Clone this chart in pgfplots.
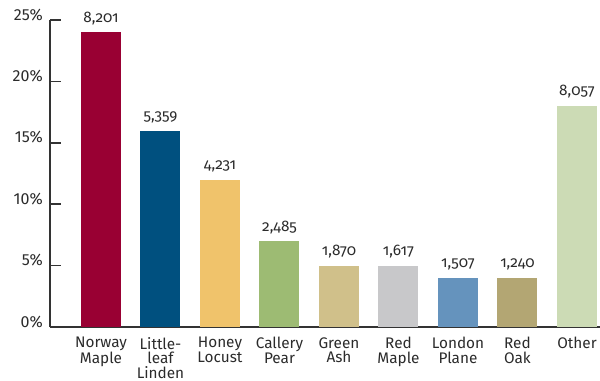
\documentclass[border=0pt]{standalone}
\usepackage{pgfplots}
\pgfplotsset{compat=1.18}
\usepackage{fontspec}
\setmainfont{Fira Sans}
\newfontfamily\osf{Fira Sans}[Numbers=OldStyle]
\definecolor{txt}{HTML}{2B2B2B}
\definecolor{axgray}{HTML}{333333}
\definecolor{cNM}{HTML}{990033}
\definecolor{cLL}{HTML}{00507F}
\definecolor{cHL}{HTML}{F0C36B}
\definecolor{cCP}{HTML}{9DBB73}
\definecolor{cGA}{HTML}{D0C08A}
\definecolor{cRM}{HTML}{C8C8CA}
\definecolor{cLP}{HTML}{6593BD}
\definecolor{cRO}{HTML}{B3A673}
\definecolor{cOT}{HTML}{CCDBB5}
\begin{document}
\begin{tikzpicture}[x=0.75pt,y=0.75pt]
\useasboundingbox (-50,-53) rectangle (550,327);
\begin{axis}[
  at={(0,0)}, anchor=south west,
  scale only axis, width=412.5pt, height=230.25pt,
  xmin=-0.857, xmax=8.387, ymin=0, ymax=25,
  axis x line*=bottom, axis y line*=left,
  axis line style={-, draw=axgray, line width=1.1pt},
  ytick={0,5,10,15,20,25},
  yticklabel={\pgfmathprintnumber{\tick}\%},
  /pgf/number format/assume math mode=true,
  yticklabel style={anchor=base east, inner sep=0pt, xshift=-5.25pt, font=\fontsize{12}{12}\selectfont, text=txt},
  ytick pos=left, tick align=inside, major tick length=8pt,
  ytick style={draw=axgray, line width=1.1pt},
  xtick={0,...,8},
  xticklabels={{Norway\\Maple},{Little-\\leaf\\Linden},{Honey\\Locust},{Callery\\Pear},{Green\\Ash},{Red\\Maple},{London\\Plane},{Red\\Oak},{Other}},
  xticklabel style={align=center, anchor=north, inner sep=0pt, yshift=0.5pt, font=\fontsize{11.5}{11}\selectfont, text=txt},
  xtick style={draw=none},
  ybar, bar width=30pt, bar shift=0pt,
  clip=false,
  every axis plot/.append style={draw=none},
  point meta=explicit symbolic,
  nodes near coords={\osf\pgfplotspointmeta},
  every node near coord/.append style={anchor=base, inner sep=0pt, yshift=7.5pt, font=\osf\fontsize{11.5}{11.5}\selectfont, text=txt},
]
\addplot[fill=cNM] coordinates {(0,24) [8{,}201]};
\addplot[fill=cLL] coordinates {(1,16) [5{,}359]};
\addplot[fill=cHL] coordinates {(2,12) [4{,}231]};
\addplot[fill=cCP] coordinates {(3,7) [2{,}485]};
\addplot[fill=cGA] coordinates {(4,5) [1{,}870]};
\addplot[fill=cRM] coordinates {(5,5) [1{,}617]};
\addplot[fill=cLP] coordinates {(6,4) [1{,}507]};
\addplot[fill=cRO] coordinates {(7,4) [1{,}240]};
\addplot[fill=cOT] coordinates {(8,18) [8{,}057]};
\end{axis}
\end{tikzpicture}
\end{document}
